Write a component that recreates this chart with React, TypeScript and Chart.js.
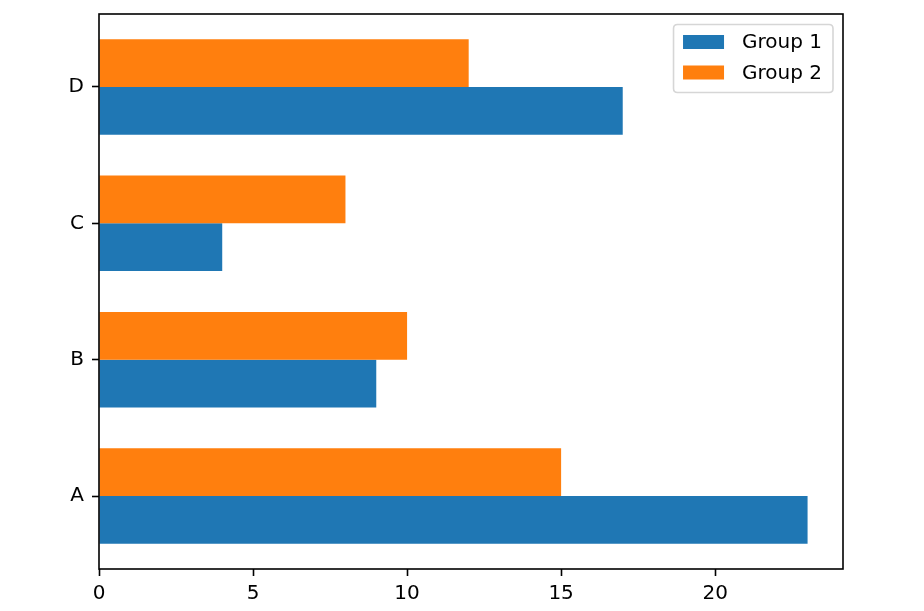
import React, { useEffect, useRef } from "react";
import { Chart, registerables } from "chart.js";

Chart.register(...registerables);

const categories = ["A", "B", "C", "D"];
const group1Values = [23, 9, 4, 17];
const group2Values = [15, 10, 8, 12];
const xTickValues = [0, 5, 10, 15, 20];
const seriesLabels = ["Group 1", "Group 2"];
const seriesColors = ["#1f77b4", "#ff7f0e"];

const FONT = '"DejaVu Sans", "Liberation Sans", sans-serif';

const framePlugin = {
  id: "mplFrame",
  afterDatasetsDraw(chart: any) {
    const { ctx, chartArea: a } = chart;
    ctx.save();
    ctx.strokeStyle = "#000000";
    ctx.lineWidth = 1.6;
    ctx.strokeRect(a.left, a.top, a.right - a.left, a.bottom - a.top);
    ctx.restore();
  },
};

const legendPlugin = {
  id: "mplLegend",
  afterDraw(chart: any) {
    const { ctx, chartArea: a } = chart;
    const fs = 20;
    ctx.save();
    ctx.font = `${fs}px ${FONT}`;
    const items = chart.data.datasets.map((d: any) => ({ label: d.label, color: d.backgroundColor }));
    const textW = Math.max(...items.map((i: any) => ctx.measureText(i.label).width));
    const w = 68.5 + textW + 11;
    const pitch = 30.5;
    const h = 17.5 + pitch * (items.length - 1) + 20;
    const right = a.right - 10;
    const left = right - w;
    const top = a.top + 10.5;
    const r = 4;
    ctx.beginPath();
    ctx.moveTo(left + r, top);
    ctx.lineTo(left + w - r, top);
    ctx.quadraticCurveTo(left + w, top, left + w, top + r);
    ctx.lineTo(left + w, top + h - r);
    ctx.quadraticCurveTo(left + w, top + h, left + w - r, top + h);
    ctx.lineTo(left + r, top + h);
    ctx.quadraticCurveTo(left, top + h, left, top + h - r);
    ctx.lineTo(left, top + r);
    ctx.quadraticCurveTo(left, top, left + r, top);
    ctx.closePath();
    ctx.fillStyle = "rgba(255,255,255,0.8)";
    ctx.fill();
    ctx.strokeStyle = "#d6d6d6";
    ctx.lineWidth = 1.6;
    ctx.stroke();
    items.forEach((it: any, i: number) => {
      const cy = top + 17.5 + i * pitch;
      ctx.fillStyle = it.color;
      ctx.fillRect(left + 9.5, cy - 7, 41, 14);
      ctx.fillStyle = "#000000";
      ctx.textBaseline = "middle";
      ctx.textAlign = "left";
      ctx.fillText(it.label, left + 68.5, cy + 1);
    });
    ctx.restore();
  },
};

export default function App() {
  const canvasRef = useRef<HTMLCanvasElement | null>(null);

  useEffect(() => {
    if (!canvasRef.current) return;
    Chart.defaults.font.family = FONT;
    Chart.defaults.font.size = 20;
    Chart.defaults.color = "#000000";
    const xMax = Math.max(...group1Values, ...group2Values) * 1.05;
    const n = categories.length;
    const yPad = (n - 1 + 0.7) * 0.05 + 0.35;
    const chart = new Chart(canvasRef.current, {
      type: "bar",
      data: {
        datasets: [
          {
            label: seriesLabels[0],
            data: group1Values.map((v, i) => ({ x: v, y: i })),
            backgroundColor: seriesColors[0],
            borderWidth: 0,
            order: 1,
          },
          {
            label: seriesLabels[1],
            data: group2Values.map((v, i) => ({ x: v, y: i })),
            backgroundColor: seriesColors[1],
            borderWidth: 0,
            order: 0,
          },
        ],
      },
      options: {
        indexAxis: "y",
        responsive: false,
        animation: false,
        devicePixelRatio: 1,
        categoryPercentage: 0.7,
        barPercentage: 1.0,
        layout: { padding: { left: 0, top: 14, right: 81, bottom: 0 } },
        plugins: {
          legend: { display: false },
          tooltip: { enabled: false },
        },
        scales: {
          x: {
            type: "linear",
            min: 0,
            max: xMax,
            offset: false,
            afterBuildTicks: (scale: any) => {
              scale.ticks = xTickValues.map((v) => ({ value: v }));
            },
            afterFit: (scale: any) => {
              scale.height = 42;
              scale.paddingLeft = 0;
              scale.paddingRight = 0;
            },
            grid: {
              display: true,
              offset: false,
              drawOnChartArea: false,
              drawTicks: true,
              tickLength: 7,
              tickWidth: 1.6,
              tickColor: "#000000",
            },
            border: { display: false },
            ticks: { padding: 6, color: "#000000", font: { size: 20, family: FONT } },
          },
          y: {
            type: "linear",
            min: -yPad,
            max: n - 1 + yPad,
            offset: false,
            afterBuildTicks: (scale: any) => {
              scale.ticks = categories.map((_, i) => ({ value: i }));
            },
            afterFit: (scale: any) => {
              scale.width = 99;
              scale.paddingTop = 0;
              scale.paddingBottom = 0;
            },
            grid: {
              display: true,
              offset: false,
              drawOnChartArea: false,
              drawTicks: true,
              tickLength: 7,
              tickWidth: 1.6,
              tickColor: "#000000",
            },
            border: { display: false },
            ticks: {
              padding: 8,
              color: "#000000",
              font: { size: 20, family: FONT },
              callback: (value: any) => categories[Number(value)] ?? "",
            },
          },
        },
      },
      plugins: [framePlugin, legendPlugin],
    } as any);
    return () => chart.destroy();
  }, []);

  return (
    <div style={{ position: "fixed", left: 0, top: 0, width: 924, height: 611, background: "#ffffff" }}>
      <canvas ref={canvasRef} width={924} height={611} style={{ width: 924, height: 611, display: "block" }} />
    </div>
  );
}
